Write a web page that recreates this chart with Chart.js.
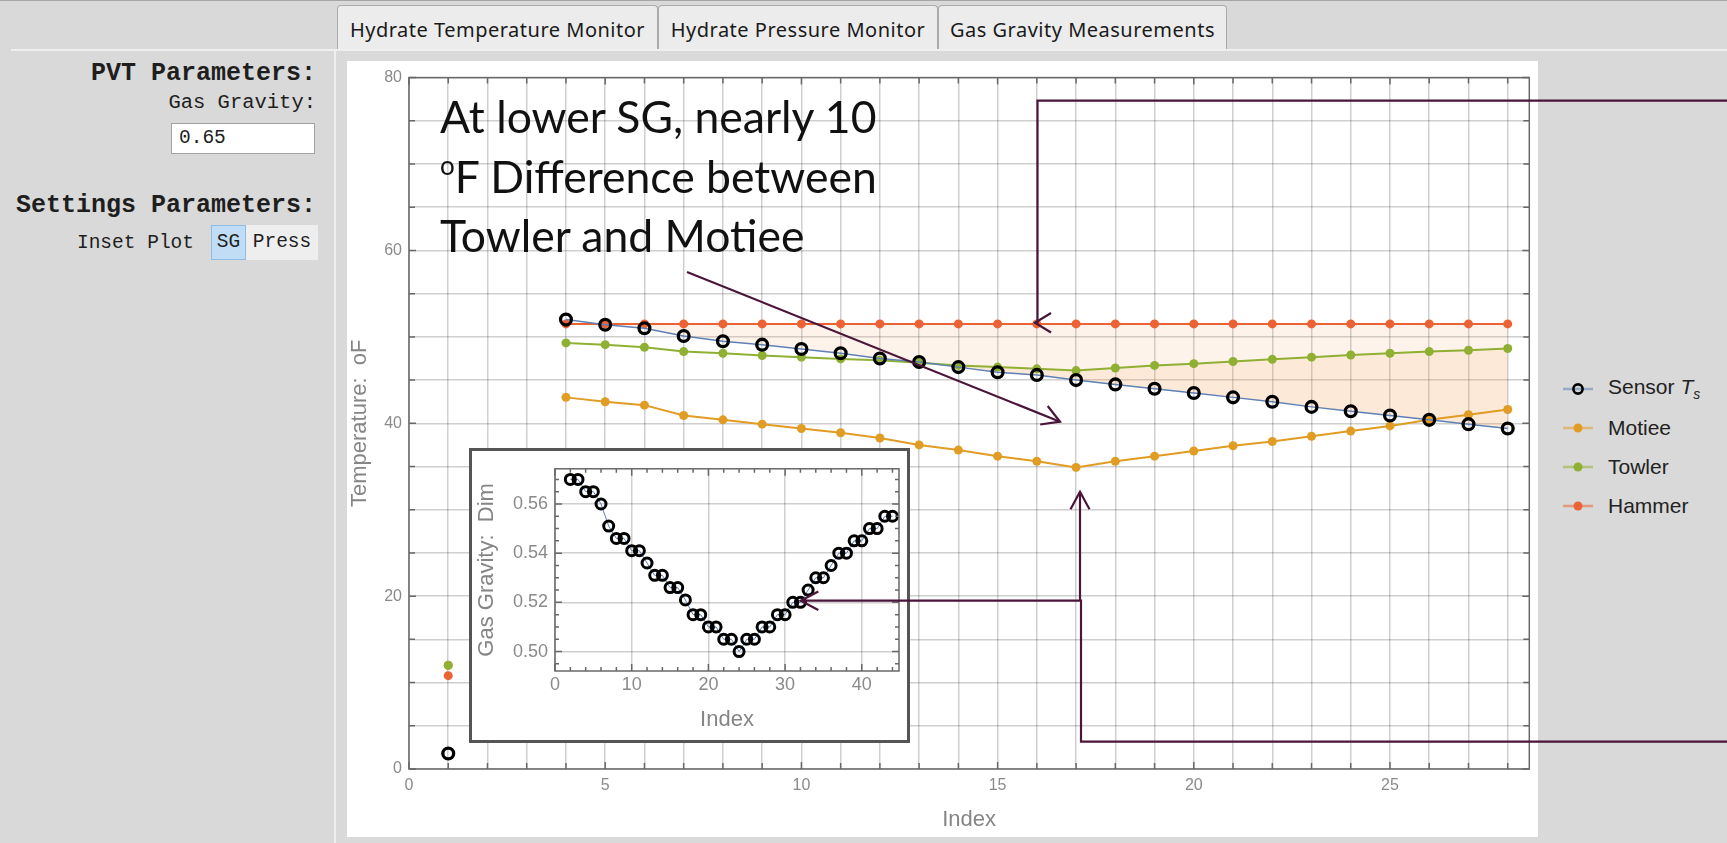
<!DOCTYPE html>
<html>
<head>
<meta charset="utf-8">
<script src="https://cdn.jsdelivr.net/npm/chart.js@4.4.1/dist/chart.umd.min.js"></script>
<style>
  body { margin:0; width:1727px; height:843px; background:#d9d9d9; position:relative; overflow:hidden;
         font-family:"Liberation Sans", Arial, sans-serif; }
  .abs { position:absolute; }
  .t { position:absolute; white-space:nowrap; line-height:1; }
  .mono { font-family:"Liberation Mono", "DejaVu Sans Mono", monospace; color:#1e1e1e; }
  .tab { position:absolute; top:5px; height:44px; background:#ececec; border:1px solid #ababab; border-bottom:none;
         border-radius:4px 4px 0 0; box-sizing:border-box; font-family:"Noto Sans", sans-serif; font-size:20px;
         letter-spacing:0.5px; color:#1a1a1a; display:flex; align-items:center; justify-content:center; padding-top:4px;
         white-space:nowrap; }
  .note { position:absolute; left:440px; white-space:nowrap; line-height:1; font-family:Lato, sans-serif;
          font-size:44.5px; color:#111; }
  #legend .row { position:absolute; left:0; height:24px; display:flex; align-items:center; white-space:nowrap; }
  #legend span.lab { font-size:21px; color:#222; margin-left:15px; white-space:nowrap; }
</style>
</head>
<body>
<div class="abs" style="left:0;top:0;width:1727px;height:1px;background:#a5a5a5"></div>
<div class="abs" style="left:11px;top:49px;width:1716px;height:2px;background:#efefef"></div>
<div class="abs" style="left:334px;top:49px;width:2px;height:794px;background:#efefef"></div>

<div class="tab" style="left:337px;width:321px">Hydrate Temperature Monitor</div>
<div class="tab" style="left:658px;width:280px">Hydrate Pressure Monitor</div>
<div class="tab" style="left:938px;width:289px">Gas Gravity Measurements</div>

<div class="t mono" style="right:1411px;top:61px;font-size:25px;font-weight:bold">PVT Parameters:</div>
<div class="t mono" style="right:1411px;top:93px;font-size:20.5px">Gas Gravity:</div>
<div class="abs mono" style="left:171px;top:123px;width:144px;height:31px;box-sizing:border-box;background:#fff;border:1px solid #a3a3a3;font-size:19.5px;line-height:29px;padding-left:7px">0.65</div>
<div class="t mono" style="right:1411px;top:193px;font-size:25px;font-weight:bold">Settings Parameters:</div>
<div class="t mono" style="right:1533px;top:234px;font-size:19.5px">Inset Plot</div>
<div class="abs mono" style="left:211px;top:225px;width:35px;height:35px;box-sizing:border-box;background:#c0ddf5;border:1px solid #8fbde6;font-size:19.5px;line-height:33px;text-align:center">SG</div>
<div class="abs mono" style="left:246px;top:225px;width:72px;height:35px;background:#eeeeee;font-size:19.5px;line-height:35px;text-align:center">Press</div>

<div class="abs" style="left:347px;top:61px;width:1191px;height:776px;background:#fff"><canvas id="mainChart"></canvas></div>

<div class="abs" style="left:469px;top:448px;width:441px;height:295px;box-sizing:border-box;border:3px solid #555;background:#fff">
  <div style="position:relative;width:435px;height:289px"><canvas id="insetChart"></canvas></div>
</div>

<div id="legend" class="abs" style="left:1563px;top:0px;width:160px"></div>

<div class="note" style="top:94px">At lower SG, nearly 10</div>
<div class="note" style="top:154px"><span style="font-size:26px;position:relative;top:-18px">o</span>F Difference between</div>
<div class="note" style="top:213px">Towler and Motiee</div>

<svg class="abs" width="1727" height="843" style="left:0;top:0" viewBox="0 0 1727 843">
  <g fill="none" stroke="#4a1538" stroke-width="2.2">
    <line x1="687" y1="272" x2="1060" y2="421.7"/>
    <polyline points="1047.7,406 1060,421.7 1040.2,424.5"/>
    <polyline points="1727,100.7 1037.5,100.7 1037.5,322.7 1035,322.7"/>
    <polyline points="1051,313 1035,322.7 1051,332.5"/>
    <polyline points="1727,741.7 1081,741.7 1081,600.7 800.7,600.7"/>
    <polyline points="818.3,591.5 800.7,600.7 818.3,610"/>
    <line x1="1080" y1="600.7" x2="1080" y2="491.7"/>
    <polyline points="1070.5,509.3 1080,491.7 1089.5,509.3"/>
  </g>
</svg>

<script>
// main plot: index 1..28 (2 and 3 are missing)
const indexValues = [1, 2, 3, 4, 5, 6, 7, 8, 9, 10, 11, 12, 13, 14, 15, 16, 17, 18, 19, 20, 21, 22, 23, 24, 25, 26, 27, 28];
const sensorTs = [1.8, null, null, 52.0, 51.4, 51.0, 50.1, 49.5, 49.1, 48.6, 48.1, 47.5, 47.1, 46.5, 45.9, 45.6, 45.0, 44.5, 44.0, 43.5, 43.0, 42.5, 41.9, 41.4, 40.9, 40.4, 39.9, 39.4];
const motiee = [12.0, null, null, 43.0, 42.5, 42.1, 40.9, 40.4, 39.9, 39.4, 38.9, 38.3, 37.5, 36.9, 36.2, 35.6, 34.9, 35.6, 36.2, 36.8, 37.4, 37.9, 38.5, 39.1, 39.7, 40.4, 41.0, 41.6];
const towler = [12.0, null, null, 49.3, 49.1, 48.8, 48.3, 48.1, 47.85, 47.65, 47.45, 47.3, 47.0, 46.7, 46.5, 46.3, 46.1, 46.4, 46.7, 46.9, 47.15, 47.4, 47.65, 47.9, 48.1, 48.3, 48.45, 48.65];
const hammer = [10.8, null, null, 51.5, 51.5, 51.5, 51.5, 51.5, 51.5, 51.5, 51.5, 51.5, 51.5, 51.5, 51.5, 51.5, 51.5, 51.5, 51.5, 51.5, 51.5, 51.5, 51.5, 51.5, 51.5, 51.5, 51.5, 51.5];
const xTickLabels = [0, 5, 10, 15, 20, 25];
const yTickLabels = [0, 20, 40, 60, 80];

// inset: gas gravity
const insetIndex = [2, 3, 4, 5, 6, 7, 8, 9, 10, 11, 12, 13, 14, 15, 16, 17, 18, 19, 20, 21, 22, 23, 24, 25, 26, 27, 28, 29, 30, 31, 32, 33, 34, 35, 36, 37, 38, 39, 40, 41, 42, 43, 44];
const gasGravity = [0.570, 0.570, 0.565, 0.565, 0.560, 0.551, 0.546, 0.546, 0.541, 0.541, 0.536, 0.531, 0.531, 0.526, 0.526, 0.521, 0.515, 0.515, 0.510, 0.510, 0.505, 0.505, 0.500, 0.505, 0.505, 0.510, 0.510, 0.515, 0.515, 0.520, 0.520, 0.525, 0.530, 0.530, 0.535, 0.540, 0.540, 0.545, 0.545, 0.550, 0.550, 0.555, 0.555];
const insetXTickLabels = [0, 10, 20, 30, 40];
const insetYTickLabels = [0.50, 0.52, 0.54, 0.56];

const BLUE = '#5E81B5', ORANGE = '#E19C24', GREEN = '#8FB032', RED = '#EB6235';
const fillTint = 'rgba(240, 150, 60, 0.11)';

Chart.defaults.font.family = '"Liberation Sans", Arial, sans-serif';

function toPoints(xs, ys) {
  return xs.map((x, i) => ({ x: x, y: ys[i] }));
}

function rgba(hex, a) {
  const n = parseInt(hex.slice(1), 16);
  return `rgba(${n >> 16}, ${(n >> 8) & 255}, ${n & 255}, ${a})`;
}

// frame round the plot with inward ticks on all four sides
const frameTicks = {
  id: 'frameTicks',
  afterDraw(chart, args, o) {
    const { ctx, chartArea: a, scales: { x, y } } = chart;
    ctx.save();
    ctx.strokeStyle = o.color;
    ctx.lineWidth = o.width;
    ctx.strokeRect(a.left, a.top, a.right - a.left, a.bottom - a.top);
    ctx.beginPath();
    for (let k = Math.ceil(x.min / o.xMinor); k * o.xMinor <= x.max + 1e-9; k++) {
      const v = k * o.xMinor;
      const len = Math.abs(v / o.xMajor - Math.round(v / o.xMajor)) < 1e-6 ? o.majorLen : o.minorLen;
      const px = x.getPixelForValue(v);
      ctx.moveTo(px, a.bottom); ctx.lineTo(px, a.bottom - len);
      ctx.moveTo(px, a.top); ctx.lineTo(px, a.top + len);
    }
    for (let k = Math.ceil(y.min / o.yMinor - 1e-6); k * o.yMinor <= y.max + 1e-9; k++) {
      const v = k * o.yMinor;
      const len = Math.abs(v / o.yMajor - Math.round(v / o.yMajor)) < 1e-6 ? o.majorLen : o.minorLen;
      const py = y.getPixelForValue(v);
      ctx.moveTo(a.left, py); ctx.lineTo(a.left + len, py);
      ctx.moveTo(a.right, py); ctx.lineTo(a.right - len, py);
    }
    ctx.stroke();
    ctx.restore();
  }
};

const gridStyle = { color: 'rgba(0,0,0,0.19)', lineWidth: 1.5, drawTicks: false };
const tickGrey = '#8a8a8a';
const titleGrey = '#858585';

const series = [
  { label: 'Sensor', values: sensorTs, color: BLUE, ring: true, order: 0 },
  { label: 'Motiee', values: motiee, color: ORANGE, order: 2 },
  { label: 'Towler', values: towler, color: GREEN, order: 1, fill: { target: 0, above: fillTint, below: 'rgba(0,0,0,0)' } },
  { label: 'Hammer', values: hammer, color: RED, order: 3, fill: { target: 0, above: fillTint, below: 'rgba(0,0,0,0)' } }
];

const mainChart = new Chart(document.getElementById('mainChart'), {
  type: 'line',
  data: {
    datasets: series.map(s => ({
      label: s.label,
      data: toPoints(indexValues, s.values),
      order: s.order,
      borderColor: s.color,
      borderWidth: s.ring ? 1.5 : 2,
      pointRadius: s.ring ? 5.4 : 4.5,
      pointBorderWidth: s.ring ? 3.3 : 0,
      pointBorderColor: s.ring ? '#000' : s.color,
      pointBackgroundColor: s.ring ? 'rgba(0,0,0,0)' : s.color,
      spanGaps: false,
      fill: s.fill || false
    }))
  },
  options: {
    responsive: true,
    maintainAspectRatio: false,
    animation: false,
    events: [],
    layout: { padding: { top: 13, right: 3, left: 0, bottom: 0 } },
    plugins: {
      legend: { display: false },
      tooltip: { enabled: false },
      filler: { drawTime: 'beforeDatasetsDraw' },
      frameTicks: { color: '#686868', width: 1.5, xMinor: 1, xMajor: 5, yMinor: 5, yMajor: 20, minorLen: 6, majorLen: 7 }
    },
    scales: {
      x: {
        type: 'linear', min: 0, max: 28.55,
        afterFit(s) { s.height = 68; },
        grid: gridStyle,
        border: { display: false },
        ticks: { stepSize: 1, includeBounds: false, autoSkip: false, maxRotation: 0, padding: 7,
                 color: tickGrey, font: { size: 16 },
                 callback: v => xTickLabels.includes(v) ? String(v) : '' },
        title: { display: true, text: 'Index', color: titleGrey, font: { size: 22 }, padding: { top: 0, bottom: 4 } }
      },
      y: {
        type: 'linear', min: 0, max: 80,
        afterFit(s) { s.width = 62; },
        grid: gridStyle,
        border: { display: false },
        ticks: { stepSize: 5, autoSkip: false, padding: 7, color: tickGrey, font: { size: 16 },
                 callback: v => yTickLabels.includes(v) ? String(v) : '' },
        title: { display: true, text: 'Temperature:  oF', color: titleGrey, font: { size: 22 }, padding: { top: 0, bottom: 0 } }
      }
    }
  },
  plugins: [frameTicks]
});

const insetChart = new Chart(document.getElementById('insetChart'), {
  type: 'line',
  data: {
    datasets: [{
      label: 'Gas Gravity',
      data: toPoints(insetIndex, gasGravity),
      borderColor: BLUE,
      borderWidth: 1,
      pointRadius: 5,
      pointBorderWidth: 3,
      pointBorderColor: '#000',
      pointBackgroundColor: 'rgba(0,0,0,0)'
    }]
  },
  options: {
    responsive: true,
    maintainAspectRatio: false,
    animation: false,
    events: [],
    layout: { padding: { top: 5, right: 6, left: 0, bottom: 0 } },
    plugins: {
      legend: { display: false },
      tooltip: { enabled: false },
      frameTicks: { color: '#686868', width: 1.5, xMinor: 2, xMajor: 10, yMinor: 0.005, yMajor: 0.02, minorLen: 4, majorLen: 7 }
    },
    scales: {
      x: {
        type: 'linear', min: 0, max: 44.85,
        afterFit(s) { s.height = 69; },
        grid: gridStyle,
        border: { display: false },
        ticks: { stepSize: 10, includeBounds: false, autoSkip: false, maxRotation: 0, padding: 3,
                 color: tickGrey, font: { size: 18 },
                 callback: v => insetXTickLabels.includes(v) ? String(v) : '' },
        title: { display: true, text: 'Index', color: titleGrey, font: { size: 22 }, padding: { top: 0, bottom: 7 } }
      },
      y: {
        type: 'linear', min: 0.4921, max: 0.5743,
        afterFit(s) { s.width = 83; },
        grid: gridStyle,
        border: { display: false },
        ticks: { stepSize: 0.02, includeBounds: false, autoSkip: false, padding: 7, color: tickGrey, font: { size: 18 },
                 callback: v => insetYTickLabels.some(t => Math.abs(t - v) < 1e-6) ? v.toFixed(2) : '' },
        title: { display: true, text: 'Gas Gravity:  Dim', color: titleGrey, font: { size: 22 }, padding: { top: 2, bottom: 0 } }
      }
    }
  },
  plugins: [frameTicks]
});

// legend (line + marker, like the plot's own)
const legendRows = [389, 428, 467, 506];
const legend = document.getElementById('legend');
series.forEach((s, i) => {
  const row = document.createElement('div');
  row.className = 'row';
  row.style.top = (legendRows[i] - 12) + 'px';
  const marker = s.ring
    ? `<circle cx="15" cy="12" r="4.6" fill="none" stroke="#000" stroke-width="2.6"/>`
    : `<circle cx="15" cy="12" r="4.5" fill="${s.color}"/>`;
  const text = s.ring ? 'Sensor <i>T</i><sub style="font-size:14px"><i>s</i></sub>' : s.label;
  row.innerHTML = `<svg width="30" height="24"><line x1="0" y1="12" x2="30" y2="12" stroke="${rgba(s.color, 0.55)}" stroke-width="2.5"/>${marker}</svg><span class="lab">${text}</span>`;
  legend.appendChild(row);
});
</script>
</body>
</html>
